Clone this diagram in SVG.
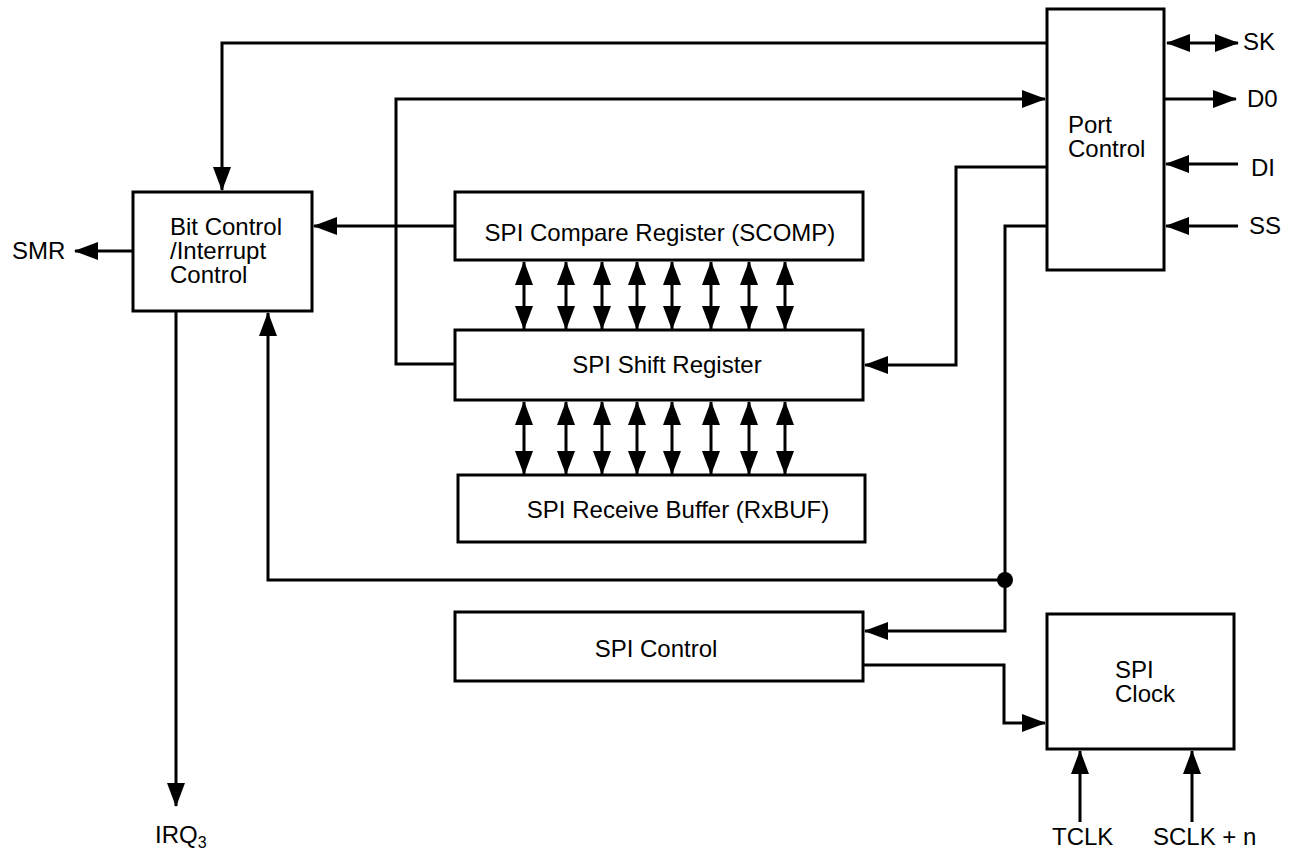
<svg xmlns="http://www.w3.org/2000/svg" width="1293" height="853" viewBox="0 0 1293 853">
<defs>
<marker id="ah" markerUnits="userSpaceOnUse" markerWidth="24" markerHeight="18" refX="23" refY="9" orient="auto-start-reverse">
<path d="M0,0 L24,9 L0,18 Z" fill="#000"/>
</marker>
<style>
.box{fill:#fff;stroke:#000;stroke-width:3}
.ln{fill:none;stroke:#000;stroke-width:3}
.ar{marker-end:url(#ah)}
.bi{marker-start:url(#ah);marker-end:url(#ah)}
text{font-family:"Liberation Sans",Arial,sans-serif;font-size:24px;fill:#000}
.c{text-anchor:middle}
</style>
</defs>
<rect width="1293" height="853" fill="#fff"/>
<g id="connectors">
<path class="ln ar" d="M1047,43 H222 V190"/>
<path class="ln bi" d="M1167,43 H1238"/>
<path class="ln ar" d="M1164,99 H1236"/>
<path class="ln ar" d="M1238,164 H1166"/>
<path class="ln ar" d="M1238,226 H1166"/>
<path class="ln ar" d="M456,364 H396 V99 H1045"/>
<path class="ln ar" d="M1047,167 H956 V365 H865"/>
<path class="ln ar" d="M1047,226 H1005 V631 H865"/>
<path class="ln ar" d="M1005,580 H268 V313"/>
<circle cx="1005" cy="580" r="8" fill="#000"/>
<path class="ln ar" d="M456,226 H314"/>
<path class="ln ar" d="M133,251 H75"/>
<path class="ln ar" d="M176,311 V806"/>
<path class="ln ar" d="M863,665 H1004 V723 H1045"/>
<path class="ln ar" d="M1080,822 V751"/>
<path class="ln ar" d="M1192,822 V751"/>
<g id="bus-upper">
<path class="ln bi" d="M524,262 V329"/>
<path class="ln bi" d="M566,262 V329"/>
<path class="ln bi" d="M602,262 V329"/>
<path class="ln bi" d="M637,262 V329"/>
<path class="ln bi" d="M672,262 V329"/>
<path class="ln bi" d="M711,262 V329"/>
<path class="ln bi" d="M749,262 V329"/>
<path class="ln bi" d="M785,262 V329"/>
</g>
<g id="bus-lower">
<path class="ln bi" d="M524,402 V474"/>
<path class="ln bi" d="M566,402 V474"/>
<path class="ln bi" d="M602,402 V474"/>
<path class="ln bi" d="M637,402 V474"/>
<path class="ln bi" d="M672,402 V474"/>
<path class="ln bi" d="M711,402 V474"/>
<path class="ln bi" d="M749,402 V474"/>
<path class="ln bi" d="M785,402 V474"/>
</g>
</g>
<g id="port-control">
<rect class="box" x="1047" y="9" width="117" height="261"/>
<text x="1068" y="133">Port</text>
<text x="1068" y="157">Control</text>
</g>
<g id="bit-control">
<rect class="box" x="133" y="192" width="179" height="119"/>
<text x="170" y="235">Bit Control</text>
<text x="170" y="259">/Interrupt</text>
<text x="170" y="283">Control</text>
</g>
<g id="scomp">
<rect class="box" x="455" y="192" width="408" height="68"/>
<text class="c" x="660" y="241">SPI Compare Register (SCOMP)</text>
</g>
<g id="shift-register">
<rect class="box" x="455" y="330" width="408" height="70"/>
<text class="c" x="667" y="373">SPI Shift Register</text>
</g>
<g id="rxbuf">
<rect class="box" x="458" y="475" width="407" height="67"/>
<text class="c" x="678" y="518">SPI Receive Buffer (RxBUF)</text>
</g>
<g id="spi-control">
<rect class="box" x="455" y="612" width="408" height="69"/>
<text class="c" x="656" y="657">SPI Control</text>
</g>
<g id="spi-clock">
<rect class="box" x="1047" y="614" width="187" height="135"/>
<text x="1115" y="678">SPI</text>
<text x="1115" y="702">Clock</text>
</g>
<g id="labels">
<text x="1243" y="50">SK</text>
<text x="1247" y="107">D0</text>
<text x="1251" y="176">DI</text>
<text x="1249" y="234">SS</text>
<text x="12" y="259">SMR</text>
<text x="155" y="843">IRQ<tspan font-size="16" dy="5">3</tspan></text>
<text x="1052" y="845">TCLK</text>
<text x="1153" y="845">SCLK + n</text>
</g>
</svg>
